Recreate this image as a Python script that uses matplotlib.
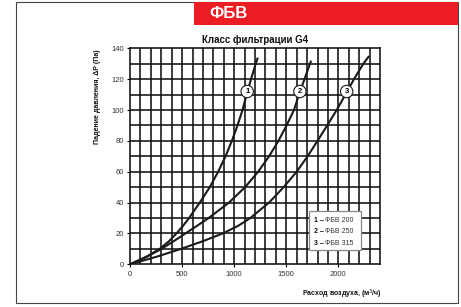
import matplotlib
matplotlib.use("Agg")
import matplotlib.pyplot as plt
from matplotlib.patches import Rectangle

plt.rcParams['font.family'] = ['Liberation Sans', 'DejaVu Sans']

# ---- data ----
pressure = [0, 5, 10, 15, 20, 25, 30, 40, 50, 60, 70, 80, 90, 100, 110, 120, 130]
flow_200 = [0, 160, 285, 375, 446, 510, 567, 670, 766, 846, 917, 978, 1032, 1080, 1119, 1162, 1207]
flow_250 = [0, 165, 301, 420, 532, 645, 755, 950, 1105, 1230, 1335, 1425, 1503, 1574, 1622, 1675, 1728]
flow_315 = [0, 260, 490, 700, 890, 1040, 1155, 1335, 1475, 1600, 1705, 1800, 1893, 1984, 2068, 2150, 2240]
end_200 = (1227, 134)
end_250 = (1739, 132)
end_315 = (2295, 135)
curve_labels = ["1", "2", "3"]
label_pos = [(1125, 112), (1631, 112), (2080, 112)]
legend_names = ["ФБВ 200", "ФБВ 250", "ФБВ 315"]
x_ticks = [0, 500, 1000, 1500, 2000]
y_ticks = [0, 20, 40, 60, 80, 100, 120, 140]

W, H = 461, 307
fig = plt.figure(figsize=(W / 100, H / 100), dpi=100)

# outer frame
fig.patches.append(Rectangle((16 / W, 1 - 303 / H), (458 - 16) / W, (303 - 2) / H,
                             transform=fig.transFigure, fill=False,
                             ec='#444444', lw=0.8))
# red banner
fig.patches.append(Rectangle((194 / W, 1 - 25 / H), (458 - 194) / W, 23 / H,
                             transform=fig.transFigure, fc='#ec1c24', ec='none'))
fig.text(209 / W, 1 - 14 / H, "ФБВ", color='white', fontsize=12, fontweight='bold',
         ha='left', va='center')

ax = fig.add_axes([130 / W, 1 - 264.3 / H, 250 / W, (264.3 - 48.3) / H])
ax.set_xlim(0, 2400)
ax.set_ylim(0, 140)

# grid
for gx in range(100, 2400, 100):
    ax.axvline(gx, color='#111111', lw=1.15, zorder=1)
for gy in range(10, 140, 10):
    ax.axhline(gy, color='#111111', lw=1.15, zorder=1)
for s in ax.spines.values():
    s.set_color('#111111')
    s.set_linewidth(1.15)

series = [(flow_200, end_200), (flow_250, end_250), (flow_315, end_315)]
for flows, end in series:
    xs = list(flows) + [end[0]]
    ys = list(pressure) + [end[1]]
    ax.plot(xs, ys, color='#1a1a1a', lw=1.5, zorder=3, solid_capstyle='butt',
            solid_joinstyle='round')

for lab, (lx, ly) in zip(curve_labels, label_pos):
    ax.text(lx, ly, lab, fontsize=5.5, fontweight='bold', ha='center', va='center',
            zorder=5,
            bbox=dict(boxstyle='circle,pad=0.35', fc='white', ec='#1a1a1a', lw=0.8))

# legend box
ax.add_patch(Rectangle((1720, 9.3), 500, 25.2, fc='white', ec='#888888', lw=0.9, zorder=4))
for i, (lab, name) in enumerate(zip(curve_labels, legend_names)):
    yy = 28.7 - i * 7.55
    ax.text(1770, yy, lab + " \u2012", fontsize=5, fontweight='bold', ha='left',
            va='center', zorder=5, color='#111111')
    ax.text(1872, yy, name, fontsize=5, ha='left', va='center', zorder=5, color='#333333')

ax.set_xticks(x_ticks)
ax.set_yticks(y_ticks)
ax.tick_params(labelsize=5.5, labelcolor='#333333', length=2.5, width=0.8, pad=2)

fig.text(255 / W, 1 - 40 / H, "Класс фильтрации G4", fontsize=7, fontweight='bold',
         ha='center', va='center', color='#111111')
fig.text(382 / W, 1 - 294 / H, "Расход воздуха, (м$^3$/ч)", fontsize=5, fontweight='bold',
         ha='right', va='center', color='#111111')
fig.text(97 / W, 1 - 97 / H, "Падение давления, ΔP (Па)", fontsize=5, fontweight='bold',
         ha='center', va='center', rotation=90, color='#111111')

fig.savefig("out.png", dpi=100)
